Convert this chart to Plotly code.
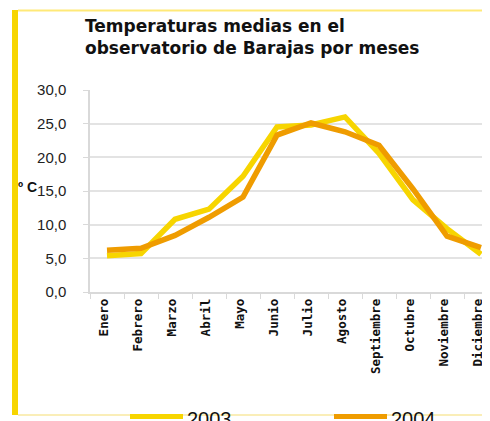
import plotly.graph_objects as go

# meses y temperaturas medias (ºC)
meses = ["Enero", "Febrero", "Marzo", "Abril", "Mayo", "Junio", "Julio",
         "Agosto", "Septiembre", "Octubre", "Noviembre", "Diciembre"]
temp_2003 = [5.4, 5.7, 10.8, 12.3, 17.2, 24.5, 24.8, 26.0, 20.6, 13.7, 9.4, 5.6]
temp_2004 = [6.2, 6.5, 8.4, 11.1, 14.1, 23.3, 25.1, 23.8, 21.8, 15.3, 8.3, 6.6]
ticks_y = [0, 5, 10, 15, 20, 25, 30]
series = ["2003", "2004"]

amarillo = "#F7D500"
naranja = "#EF9C00"
colores = [amarillo, naranja]

# la página tiene 8px de margen: coordenadas de pantalla -> paper
# área del gráfico en pantalla: x 90..498, y 90..292
OFF = 8
def px_x(p):
    return (p - 90) / 408

def px_y(p):
    return (292 - p) / 202

fig = go.Figure()
for nombre, valores, color in zip(series, [temp_2003, temp_2004], colores):
    fig.add_trace(go.Scatter(x=meses, y=valores, mode="lines", name=nombre,
                             line=dict(color=color, width=5.5)))

# marco y leyenda dibujados a mano (las leyendas de plotly empujan los márgenes)
forme = [
    dict(type="rect", xref="paper", yref="paper", x0=px_x(12), x1=px_x(18),
         y0=px_y(415), y1=px_y(10), fillcolor=amarillo, line=dict(width=0)),
    dict(type="line", xref="paper", yref="paper", x0=px_x(18), x1=px_x(498),
         y0=px_y(10.5), y1=px_y(10.5), line=dict(color="#FFE978", width=2)),
    dict(type="line", xref="paper", yref="paper", x0=px_x(18), x1=px_x(498),
         y0=px_y(415), y1=px_y(415), line=dict(color="#F9E9A0", width=1.5)),
]
note = [
    dict(text="Temperaturas medias en el<br>observatorio de Barajas por meses",
         xref="paper", yref="paper", x=px_x(83), xanchor="left", align="left",
         y=px_y(36.5), yanchor="middle", showarrow=False,
         font=dict(family="DejaVu Sans", size=17, color="#111", weight="bold")),
    dict(text="º C", xref="paper", yref="paper", x=px_x(16), xanchor="left",
         y=px_y(187), yanchor="middle", showarrow=False,
         font=dict(family="Liberation Sans", size=14, color="#111", weight="bold")),
]
for i, (nombre, color) in enumerate(zip(series, colores)):
    x0 = 130 + i * 204
    forme.append(dict(type="line", xref="paper", yref="paper", x0=px_x(x0), x1=px_x(x0 + 53),
                      y0=px_y(416.5), y1=px_y(416.5), line=dict(color=color, width=5)))
    note.append(dict(text=nombre, xref="paper", yref="paper", x=px_x(x0 + 55), xanchor="left",
                     y=px_y(406), yanchor="top", showarrow=False,
                     font=dict(family="Liberation Sans", size=20, color="#111")))

fig.update_layout(
    width=490, height=421,
    margin=dict(l=90 - OFF, r=0, t=90 - OFF, b=421 - (292 - OFF)),
    plot_bgcolor="white", paper_bgcolor="white",
    separators=",.",
    showlegend=False,
    xaxis=dict(range=[-0.5, 11.5], tickangle=-90, ticks="outside", ticklen=5,
               tickson="boundaries", tickcolor="#d9d9d9", showline=True,
               linecolor="#d9d9d9", linewidth=1.5, showgrid=False, automargin=False,
               ticklabelshift=-3,
               tickfont=dict(family="DejaVu Sans Mono", size=12.5, color="#111", weight="bold")),
    yaxis=dict(range=[0, 30], tickvals=ticks_y, tickformat=".1f", ticks="outside",
               ticklen=5, tickcolor="#d9d9d9", showline=True, linecolor="#d9d9d9",
               linewidth=1.5, gridcolor="#e3e3e3", gridwidth=1.5, zeroline=False,
               automargin=False, ticklabelstandoff=14,
               tickfont=dict(family="Liberation Sans", size=15, color="#222")),
    shapes=forme,
    annotations=note,
)

fig.write_html("out.html")
